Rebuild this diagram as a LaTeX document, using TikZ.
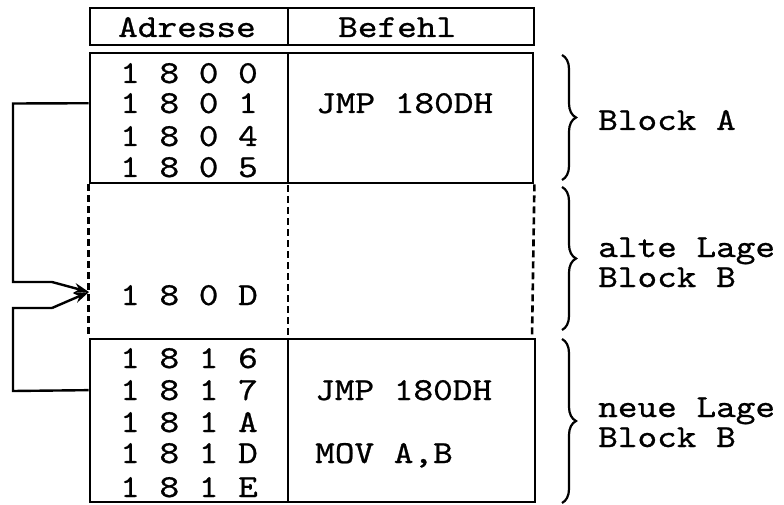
\documentclass[tikz,border=0pt]{standalone}
\usepackage{fontspec}
\newfontfamily\tw{lmmono10-regular}[Extension=.otf,FakeStretch=1.17,FakeBold=0.8]
\usetikzlibrary{arrows.meta,decorations.pathreplacing}
\begin{document}
\begin{tikzpicture}[x=1pt,y=-1pt,
  box/.style={draw,line width=2.8pt,rectangle,inner sep=0pt},
  sepline/.style={line width=2.6pt},
  dashline/.style={line width=2.6pt,dash pattern=on 7pt off 4pt},
  txt/.style={anchor=base west,inner sep=0pt,font=\tw\fontsize{32}{36}\selectfont},
  link/.style={line width=2.4pt},
  jump/.style={line width=2.4pt,-{Stealth[length=15pt,width=10pt]}},
  curly/.style={line width=2.2pt,decorate,decoration={brace,amplitude=14pt}}]
\useasboundingbox (0,0) rectangle (784,505);

% table frames
\node[box,minimum width=444pt,minimum height=37pt] (head) at (312,26.5) {};
\node[box,minimum width=443pt,minimum height=130pt] (blockA) at (311.5,118) {};
\node[box,minimum width=445pt,minimum height=163pt] (blockC) at (312.5,420.5) {};

% column separators
\draw[sepline] (288,8) -- (288,45);
\draw[sepline] (288,53) -- (288,183);
\draw[sepline] (288,339) -- (288,502);

% old position of block B (dashed)
\draw[dashline] (blockA.south west) -- (blockC.north west);
\draw[dashline] (288,185) -- (288,335);
\draw[dashline] (blockA.south east) -- (532,339);

% header
\node[txt] (hadr) at (118,37) {Adresse};
\node[txt] (hbef) at (338,37) {Befehl};

% block A
\node[txt] (a1800) at (120,83) {1 8 0 0};
\node[txt] (a1801) at (120,113) {1 8 0 1};
\node[txt] (a1804) at (120,146) {1 8 0 4};
\node[txt] (a1805) at (120,177) {1 8 0 5};
\node[txt] (ajmp) at (316,113) {JMP 180DH};

% old block B
\node[txt] (b180D) at (120,305) {1 8 0 D};

% new block B
\node[txt] (c1816) at (120,368) {1 8 1 6};
\node[txt] (c1817) at (120,400) {1 8 1 7};
\node[txt] (c181A) at (120,432) {1 8 1 A};
\node[txt] (c181D) at (120,463) {1 8 1 D};
\node[txt] (c181E) at (120,497) {1 8 1 E};
\node[txt] (cjmp) at (315,400) {JMP 180DH};
\node[txt] (cmov) at (315,463) {MOV A,B};

% jump connectors
\coordinate (tip) at (89,292);
\coordinate (bendA) at (52,282);
\coordinate (bendC) at (52,308);
\draw[link] (blockA.west |- a1801.west) -- (13,103.5) -- (13,282) -- (bendA);
\draw[jump] (bendA) -- (tip);
\draw[link] (blockC.west |- c1817.west) -- (13,391) -- (13,308) -- (bendC);
\draw[jump] (bendC) -- (tip);

% braces and labels
\draw[curly] (562,55) -- (562,180);
\draw[curly] (562,187) -- (562,330);
\draw[curly] (562,339) -- (562,503);
\node[txt] (lA) at (598,130) {Block A};
\node[txt] (lB1) at (598,257) {alte Lage};
\node[txt] (lB2) at (598,287) {Block B};
\node[txt] (lC1) at (598,417) {neue Lage};
\node[txt] (lC2) at (598,447) {Block B};
\end{tikzpicture}
\end{document}
